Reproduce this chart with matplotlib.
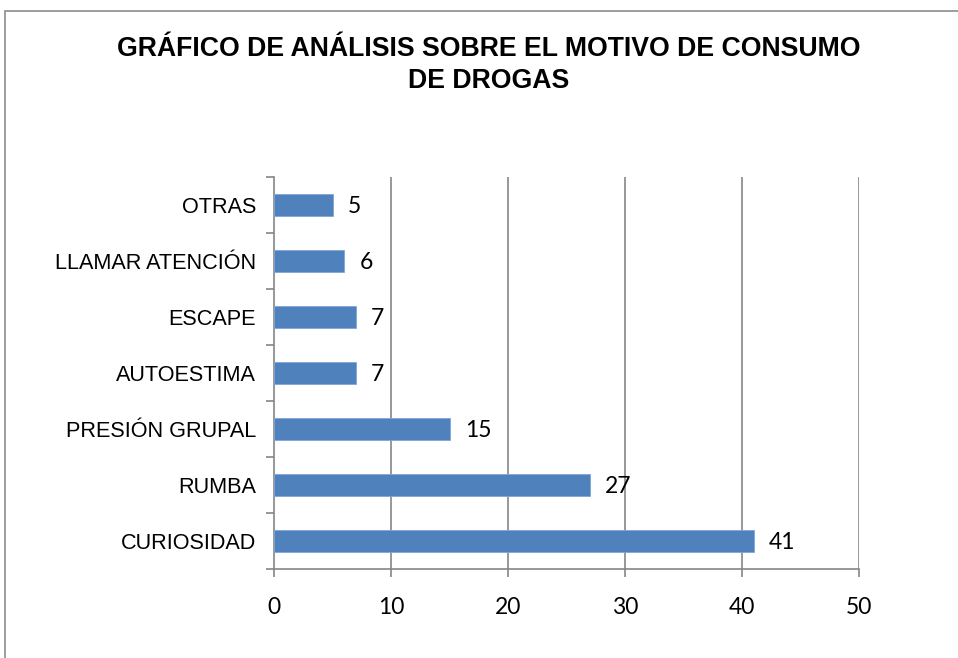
import matplotlib
matplotlib.use("Agg")
import matplotlib.pyplot as plt
from matplotlib.patches import Rectangle

categories = ["CURIOSIDAD", "RUMBA", "PRESIÓN GRUPAL", "AUTOESTIMA",
              "ESCAPE", "LLAMAR ATENCIÓN", "OTRAS"]
values = [41, 27, 15, 7, 7, 6, 5]
x_ticks = [0, 10, 20, 30, 40, 50]
title = "GRÁFICO DE ANÁLISIS SOBRE EL MOTIVO DE CONSUMO\nDE DROGAS"

W, H = 958, 658
fig = plt.figure(figsize=(W / 100, H / 100), dpi=100)
fig.patch.set_facecolor("white")

# outer frame of the chart
fig.add_artist(Rectangle((4.5 / W, -0.02), 1.0, 1 - 10.5 / H + 0.02,
                         transform=fig.transFigure, fill=False,
                         edgecolor="#8c8c8c", linewidth=1.2))

left, right = 274 / W, 859 / W
top, bottom = 1 - 177 / H, 1 - 569 / H
ax = fig.add_axes([left, bottom, right - left, top - bottom])

grid_col = "#868686"
ypos = list(range(len(categories)))
ax.barh(ypos, values, height=0.4, color="#4F81BD", edgecolor="#7fa6d6",
        linewidth=0.6, zorder=3)

for y, v in zip(ypos, values):
    ax.text(v + 1.3, y - 0.03, str(v), va="center", ha="left",
            fontsize=16.5, family="Lato", color="black")

ax.set_xlim(0, 50)
ax.set_ylim(-0.5, len(categories) - 0.5)
ax.set_xticks(x_ticks)
ax.set_xticklabels([str(t) for t in x_ticks], fontsize=16.5, family="Lato")
ax.set_yticks(ypos)
ax.set_yticklabels(categories, fontsize=15.6, family="Liberation Sans")
ax.set_yticks([i - 0.5 for i in range(len(categories) + 1)], minor=True)

ax.tick_params(axis="y", which="major", length=0, pad=13)
ax.tick_params(axis="y", which="minor", length=6, color=grid_col, width=1.2,
               direction="out")
ax.tick_params(axis="x", which="major", length=6, color=grid_col, width=1.2,
               direction="out", pad=14)

for t in x_ticks[1:]:
    ax.axvline(t, color=grid_col, linewidth=1.2, zorder=1)

for s in ["top", "right"]:
    ax.spines[s].set_visible(False)
for s in ["left", "bottom"]:
    ax.spines[s].set_color(grid_col)
    ax.spines[s].set_linewidth(1.2)

fig.text(489 / W, 1 - 65 / H, title, ha="center", va="center",
         fontsize=19.2, fontweight="bold", family="Liberation Sans",
         linespacing=1.25)

fig.savefig("out.png", dpi=100)
